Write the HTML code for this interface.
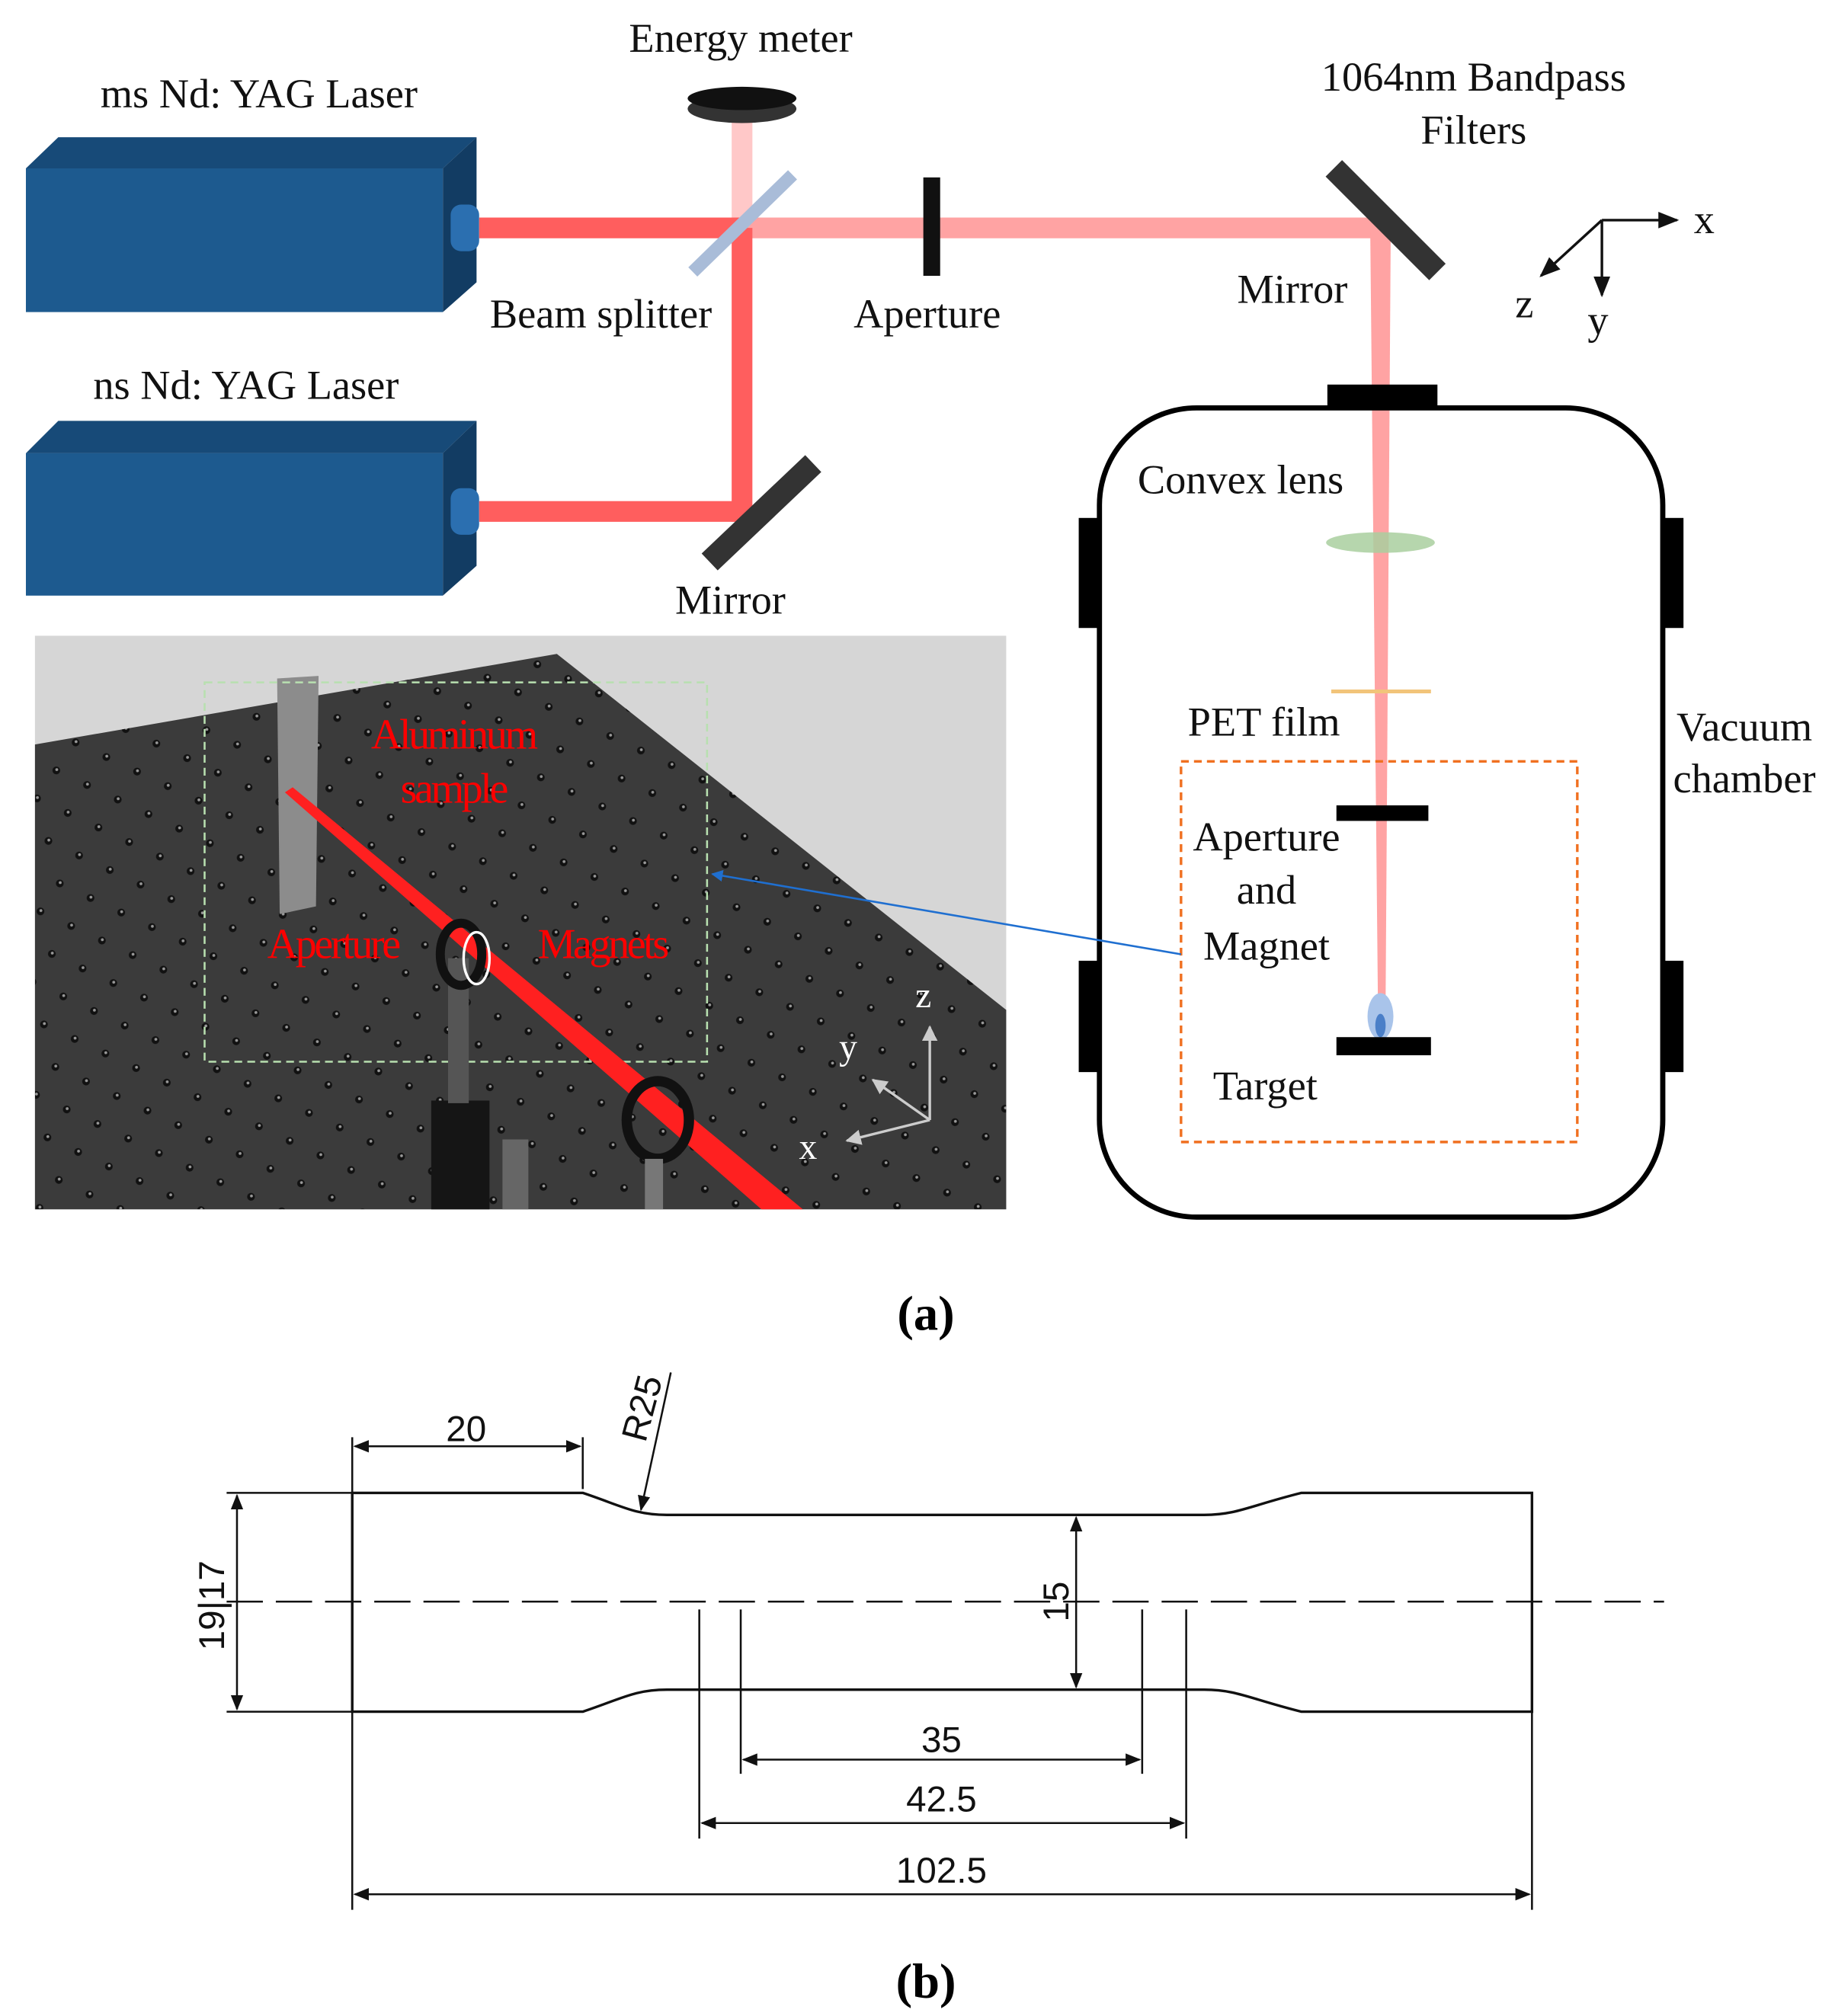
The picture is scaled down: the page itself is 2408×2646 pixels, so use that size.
<!DOCTYPE html>
<html><head><meta charset="utf-8"><style>
html,body{margin:0;padding:0;background:#fff}
svg{display:block}
.s{font-family:"Liberation Serif",serif;font-size:32px;fill:#111}
.d{font-family:"Liberation Sans",sans-serif;font-size:28px;fill:#111}
.r{font-family:"Liberation Serif",serif;font-size:33px;fill:#ff0000}
</style></head><body>
<svg width="2408" height="2646" viewBox="0 0 1417 1557" xmlns="http://www.w3.org/2000/svg">
<defs>
<marker id="ah" viewBox="0 0 10 10" refX="9" refY="5" markerWidth="8" markerHeight="8" orient="auto-start-reverse"><path d="M0,1 L10,5 L0,9 z" fill="#111"/></marker>
<marker id="bh" viewBox="0 0 10 10" refX="9" refY="5" markerWidth="6" markerHeight="6" orient="auto"><path d="M0,0 L10,5 L0,10 z" fill="#1f6fd0"/></marker>
<marker id="wh" viewBox="0 0 10 10" refX="9" refY="5" markerWidth="6" markerHeight="6" orient="auto"><path d="M0,0 L10,5 L0,10 z" fill="#ccc"/></marker>
<pattern id="dots" width="40" height="34" patternUnits="userSpaceOnUse" patternTransform="rotate(-15)">
<circle cx="8" cy="8" r="3" fill="#111"/><circle cx="8.5" cy="7.5" r="1.1" fill="#999"/>
<circle cx="28" cy="25" r="3" fill="#111"/><circle cx="28.5" cy="24.5" r="1.1" fill="#999"/>
</pattern>
<clipPath id="tb"><polygon points="27,575 430,505 777,780 777,934 27,934"/></clipPath>
</defs>

<g>
<polygon points="20,130 45,106 368,106 342,130" fill="#174a78"/>
<rect x="20" y="130" width="322" height="111" fill="#1d5a8f"/>
<polygon points="342,130 368,106 368,218 342,241" fill="#123c63"/>
<rect x="348" y="158" width="22" height="36" rx="8" fill="#2b6fb0"/>
<polygon points="20,350 45,325 368,325 342,350" fill="#174a78"/>
<rect x="20" y="350" width="322" height="110" fill="#1d5a8f"/>
<polygon points="342,350 368,325 368,437 342,460" fill="#123c63"/>
<rect x="348" y="377" width="22" height="36" rx="8" fill="#2b6fb0"/>
</g>
<rect x="565" y="88" width="16" height="90" fill="#ffc8c8"/>
<rect x="575" y="168" width="490" height="16" fill="#ffa3a3"/>
<polygon points="1058,168 1074,168 1070,770 1064,770" fill="#ffa3a3"/>
<rect x="370" y="168" width="205" height="16" fill="#ff5e5e"/>
<rect x="565" y="176" width="16" height="227" fill="#ff5e5e"/>
<rect x="370" y="387" width="205" height="16" fill="#ff5e5e"/>
<ellipse cx="573" cy="84" rx="42" ry="11" fill="#333"/>
<ellipse cx="573" cy="76" rx="42" ry="9" fill="#111"/>
<line x1="535" y1="210" x2="612" y2="135" stroke="#a9bcd8" stroke-width="10"/>
<rect x="713" y="137" width="13" height="76" fill="#111"/>
<line x1="1030" y1="130" x2="1110" y2="210" stroke="#333" stroke-width="18"/>
<line x1="548" y1="434" x2="628" y2="358" stroke="#333" stroke-width="18"/>
<g stroke="#111" stroke-width="2" fill="none">
<line x1="1237" y1="170" x2="1295" y2="170" marker-end="url(#ah)"/>
<line x1="1237" y1="170" x2="1237" y2="228" marker-end="url(#ah)"/>
<line x1="1237" y1="170" x2="1190" y2="213" marker-end="url(#ah)"/>
</g>
<text class="s" x="1308" y="180">x</text>
<text class="s" x="1226" y="258">y</text>
<text class="s" x="1170" y="245">z</text>
<text class="s" x="572" y="40" text-anchor="middle">Energy meter</text>
<text class="s" x="200" y="83" text-anchor="middle">ms Nd: YAG Laser</text>
<text class="s" x="190" y="308" text-anchor="middle">ns Nd: YAG Laser</text>
<text class="s" x="464" y="253" text-anchor="middle">Beam  splitter</text>
<text class="s" x="716" y="253" text-anchor="middle">Aperture</text>
<text class="s" x="998" y="234" text-anchor="middle">Mirror</text>
<text class="s" x="564" y="474" text-anchor="middle">Mirror</text>
<text class="s" x="1138" y="70" text-anchor="middle">1064nm  Bandpass</text>
<text class="s" x="1138" y="111" text-anchor="middle">Filters</text>
<rect x="849" y="315" width="435" height="625" rx="75" fill="none" stroke="#000" stroke-width="4"/>
<rect x="1025" y="297" width="85" height="18" fill="#000"/>
<rect x="833" y="400" width="16" height="85" fill="#000"/>
<rect x="833" y="742" width="16" height="86" fill="#000"/>
<rect x="1284" y="400" width="16" height="85" fill="#000"/>
<rect x="1284" y="742" width="16" height="86" fill="#000"/>
<ellipse cx="1066" cy="419" rx="42" ry="8" fill="#a9cf9f" opacity="0.85"/>
<line x1="1028" y1="534" x2="1105" y2="534" stroke="#f2c47a" stroke-width="3"/>
<rect x="1032" y="622" width="71" height="12" fill="#000"/>
<ellipse cx="1066" cy="785" rx="10" ry="18" fill="#a9c4ea"/>
<ellipse cx="1066" cy="792" rx="4" ry="9" fill="#4a7fc8"/>
<rect x="1032" y="801" width="73" height="14" fill="#000"/>
<rect x="912" y="588" width="306" height="294" fill="none" stroke="#f07020" stroke-width="2" stroke-dasharray="6,4"/>
<text class="s" x="958" y="381" text-anchor="middle">Convex lens</text>
<text class="s" x="976" y="568" text-anchor="middle">PET film</text>
<text class="s" x="978" y="657" text-anchor="middle">Aperture</text>
<text class="s" x="978" y="698" text-anchor="middle">and</text>
<text class="s" x="978" y="741" text-anchor="middle">Magnet</text>
<text class="s" x="977" y="849" text-anchor="middle">Target</text>
<text class="s" x="1347" y="572" text-anchor="middle">Vacuum</text>
<text class="s" x="1347" y="612" text-anchor="middle">chamber</text>
<rect x="27" y="491" width="750" height="443" fill="#d6d6d6"/>
<polygon points="27,575 430,505 777,780 777,934 27,934" fill="#3b3b3b"/>
<rect x="27" y="491" width="750" height="443" fill="url(#dots)" clip-path="url(#tb)"/>
<polygon points="214,524 246,522 244,700 216,706" fill="#8c8c8c"/>
<rect x="158" y="527" width="388" height="293" fill="none" stroke="#b8e0b0" stroke-width="1.5" stroke-dasharray="6,4"/>
<polygon points="220,612 226,608 620,934 588,934" fill="#ff2020"/>
<rect x="388" y="880" width="20" height="54" fill="#666"/>
<rect x="333" y="850" width="45" height="84" fill="#151515"/>
<rect x="346" y="740" width="16" height="112" fill="#555"/>
<ellipse cx="356" cy="737" rx="16" ry="24" fill="none" stroke="#111" stroke-width="7"/>
<ellipse cx="368" cy="740" rx="10" ry="20" fill="none" stroke="#fff" stroke-width="2"/>
<ellipse cx="508" cy="865" rx="24" ry="30" fill="none" stroke="#111" stroke-width="8"/>
<rect x="498" y="895" width="14" height="39" fill="#777"/>
<text class="r" x="350" y="578" text-anchor="middle" letter-spacing="-2">Aluminum</text>
<text class="r" x="350" y="620" text-anchor="middle" letter-spacing="-2">sample</text>
<text class="r" x="257" y="740" text-anchor="middle" letter-spacing="-2">Aperture</text>
<text class="r" x="465" y="740" text-anchor="middle" letter-spacing="-2">Magnets</text>
<g stroke="#ccc" stroke-width="2">
<line x1="718" y1="865" x2="718" y2="793" marker-end="url(#wh)"/>
<line x1="718" y1="865" x2="674" y2="834" marker-end="url(#wh)"/>
<line x1="718" y1="865" x2="654" y2="881" marker-end="url(#wh)"/>
</g>
<text x="713" y="778" font-family="Liberation Serif,serif" font-size="28" fill="#fff" text-anchor="middle">z</text>
<text x="655" y="818" font-family="Liberation Serif,serif" font-size="28" fill="#fff" text-anchor="middle">y</text>
<text x="624" y="895" font-family="Liberation Serif,serif" font-size="28" fill="#fff" text-anchor="middle">x</text>
<line x1="912" y1="737" x2="550" y2="675" stroke="#1f6fd0" stroke-width="1.5" marker-end="url(#bh)"/>
<text x="715" y="1027" font-family="Liberation Serif,serif" font-size="38" font-weight="bold" fill="#000" text-anchor="middle">(a)</text>

<g fill="none" stroke="#111" stroke-width="2">
<path d="M272,1153 L450,1153 C480,1163 490,1170 515,1170 L930,1170 C955,1170 965,1163 1005,1153 L1183,1153 L1183,1322 L1005,1322 C965,1312 955,1305 930,1305 L515,1305 C490,1305 480,1312 450,1322 L272,1322 Z"/>
<line x1="175" y1="1237" x2="1285" y2="1237" stroke-dasharray="28,10" stroke-width="1.5"/>
<line x1="272" y1="1110" x2="272" y2="1475" stroke-width="1.5"/>
<line x1="450" y1="1110" x2="450" y2="1150" stroke-width="1.5"/>
<line x1="1183" y1="1322" x2="1183" y2="1475" stroke-width="1.5"/>
<line x1="175" y1="1153" x2="272" y2="1153" stroke-width="1.5"/>
<line x1="175" y1="1322" x2="272" y2="1322" stroke-width="1.5"/>
<line x1="540" y1="1243" x2="540" y2="1420" stroke-width="1.5"/>
<line x1="916" y1="1243" x2="916" y2="1420" stroke-width="1.5"/>
<line x1="572" y1="1243" x2="572" y2="1370" stroke-width="1.5"/>
<line x1="882" y1="1243" x2="882" y2="1370" stroke-width="1.5"/>
<g stroke-width="1.5" marker-start="url(#ah)" marker-end="url(#ah)">
<line x1="274" y1="1117" x2="448" y2="1117"/>
<line x1="183" y1="1155" x2="183" y2="1320"/>
<line x1="831" y1="1172" x2="831" y2="1303"/>
<line x1="574" y1="1359" x2="880" y2="1359"/>
<line x1="542" y1="1408" x2="914" y2="1408"/>
<line x1="274" y1="1463" x2="1181" y2="1463"/>
</g>
<line x1="518" y1="1060" x2="495" y2="1166" stroke-width="1.5" marker-end="url(#ah)"/>
</g>
<text class="d" x="360" y="1113" text-anchor="middle">20</text>
<text class="d" x="0" y="0" transform="translate(505,1090) rotate(-75)" text-anchor="middle">R25</text>
<text class="d" x="0" y="0" transform="translate(173,1240) rotate(-90)" text-anchor="middle">19|17</text>
<text class="d" x="0" y="0" transform="translate(825,1237) rotate(-90)" text-anchor="middle">15</text>
<text class="d" x="727" y="1353" text-anchor="middle">35</text>
<text class="d" x="727" y="1399" text-anchor="middle">42.5</text>
<text class="d" x="727" y="1454" text-anchor="middle">102.5</text>
<text x="715" y="1543" font-family="Liberation Serif,serif" font-size="38" font-weight="bold" fill="#000" text-anchor="middle">(b)</text>
</svg>
</body></html>
